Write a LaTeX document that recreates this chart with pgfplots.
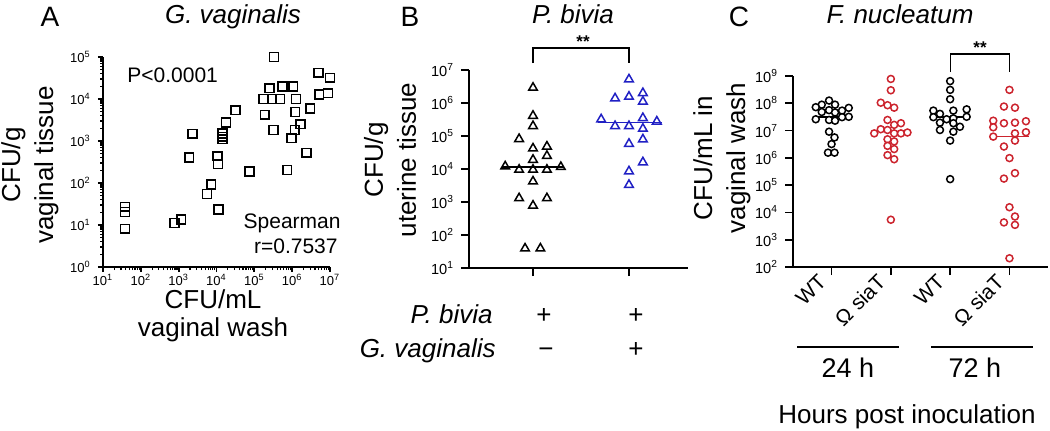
\documentclass[border=0pt]{standalone}
\usepackage{fontspec}
\setmainfont{Liberation Sans}
\usepackage{pgfplots}
\pgfplotsset{compat=1.18}
\definecolor{fnred}{RGB}{204,36,46}
\definecolor{pbblue}{RGB}{32,32,196}
\newcommand{\tp}[1]{10\textsuperscript{#1}}
\begin{document}
\begin{tikzpicture}
\path[use as bounding box] (0,0) rectangle (525pt,215pt);
\pgfplotsset{
  panel/.style={
    scale only axis, anchor=south west,
    axis lines=left, axis line style={-, line width=1pt, black},
    tick align=outside,
    major tick style={line width=0.9pt, black},
    clip=false,
  }
}
% ---------------- Panel A ----------------
\begin{axis}[panel, at={(51.5pt,81.5pt)}, width=113.5pt, height=105pt,
  xmode=log, ymode=log, xmin=10, xmax=1e7, ymin=1, ymax=1e5,
  xtick={1e1,1e2,1e3,1e4,1e5,1e6,1e7},
  xticklabels={\tp{1},\tp{2},\tp{3},\tp{4},\tp{5},\tp{6},\tp{7}},
  ytick={1,1e1,1e2,1e3,1e4,1e5},
  yticklabels={\tp{0},\tp{1},\tp{2},\tp{3},\tp{4},\tp{5}},
  minor xtick={20,30,40,50,60,70,80,90,200,300,400,500,600,700,800,900,2000,3000,4000,5000,6000,7000,8000,9000,2e4,3e4,4e4,5e4,6e4,7e4,8e4,9e4,2e5,3e5,4e5,5e5,6e5,7e5,8e5,9e5,2e6,3e6,4e6,5e6,6e6,7e6,8e6,9e6},
  minor ytick={2,3,4,5,6,7,8,9,20,30,40,50,60,70,80,90,200,300,400,500,600,700,800,900,2000,3000,4000,5000,6000,7000,8000,9000,2e4,3e4,4e4,5e4,6e4,7e4,8e4,9e4},
  major tick length=2.6pt, minor tick length=1.5pt,
  minor tick style={line width=0.6pt, black},
  tick label style={font=\fontsize{6.5}{7.5}\selectfont},
  xticklabel style={yshift=2.5pt},
]
\addplot[only marks, mark=square, mark size=2.2pt, mark options={line width=0.8pt, black, fill=white}] table {
x y
3.3e5 1.0e5
5.0e6 4.2e4
1.0e7 3.2e4
2.5e5 1.8e4
5.6e5 2.0e4
1.07e6 2.0e4
1.74e5 1.0e4
2.9e5 1.0e4
4.8e5 1.0e4
1.26e6 1.0e4
5.2e6 1.29e4
8.9e6 1.38e4
3.0e6 5.9e3
1.2e6 4.9e3
1.9e5 4.2e3
1.78e4 2.75e3
3.2e4 5.4e3
2.3e3 1.48e3
1.45e4 1.51e3
1.45e4 1.26e3
1.45e4 1.1e3
3.2e5 1.82e3
1.66e6 2.5e3
1.17e6 1.82e3
9.5e5 1.17e3
2.4e6 525
1.9e3 407
1.05e4 437
1.1e4 282
7.4e4 186
7.4e5 204
7.2e3 93
5.6e3 55
1.12e4 23.4
776 11.2
1.17e3 13.5
38 27
38 20.4
38 8.1
};
\end{axis}
% ---------------- Panel B ----------------
\begin{axis}[panel, at={(234.5pt,81pt)}, width=109.5pt, height=99pt,
  ymode=log, xmin=0.333, xmax=2.615, ymin=10, ymax=1e7,
  xtick={1,2}, xticklabels={},
  ytick={1e1,1e2,1e3,1e4,1e5,1e6,1e7},
  yticklabels={\tp{1},\tp{2},\tp{3},\tp{4},\tp{5},\tp{6},\tp{7}},
  major tick length=4pt, minor tick length=0pt,
  tick label style={font=\fontsize{7.3}{8.5}\selectfont},
]
\addplot[black, line width=0.8pt] coordinates {(0.68,1.17e4) (1.32,1.17e4)};
\addplot[pbblue, line width=0.8pt] coordinates {(1.68,2.57e5) (2.34,2.57e5)};
\addplot[only marks, mark=triangle, mark size=2.5pt, mark options={line width=0.75pt, black, fill=white}] table {
x y
1.0 2.9e6
1.0 4.1e5
1.0 2.0e5
0.855 8.1e4
1.0 4.2e4
1.145 4.8e4
1.0 1.9e4
1.145 2.5e4
0.71 1.2e4
0.855 9.5e3
1.0 9.5e3
1.145 9.5e3
1.29 1.15e4
1.0 4.2e3
0.855 1.3e3
1.145 1.3e3
1.0 776
0.917 39
1.077 39
};
\addplot[only marks, mark=triangle, mark size=2.5pt, mark options={line width=0.75pt, pbblue, fill=white}] table {
x y
2.0 5.2e6
1.855 1.38e6
2.0 1.55e6
2.145 2.0e6
2.145 1.1e6
1.71 3.2e5
1.855 2.0e5
2.0 2.0e5
2.145 3.5e5
2.29 2.75e5
2.145 1.66e5
2.0 5.8e4
2.145 7.9e4
2.145 1.6e4
2.0 8.5e3
2.0 3.3e3
};
\end{axis}
% ---------------- Panel C ----------------
\begin{axis}[panel, at={(396.5pt,81.5pt)}, width=127.5pt, height=95.5pt,
  ymode=log, xmin=0.35, xmax=4.65, ymin=100, ymax=1e9,
  xtick={1,2,3,4}, xticklabels={WT,Ω siaT,WT,Ω siaT},
  ytick={1e2,1e3,1e4,1e5,1e6,1e7,1e8,1e9},
  yticklabels={\tp{2},\tp{3},\tp{4},\tp{5},\tp{6},\tp{7},\tp{8},\tp{9}},
  major tick length=4pt, minor tick length=0pt,
  tick label style={font=\fontsize{7.3}{8.5}\selectfont},
  xticklabel style={rotate=45, anchor=east, font=\fontsize{10.5}{12}\selectfont, xshift=-1pt, yshift=2pt},
]
\addplot[black, line width=0.8pt] coordinates {(0.69,3.2e7) (1.345,3.2e7)};
\addplot[fnred, line width=0.8pt] coordinates {(1.67,9.1e6) (2.32,9.1e6)};
\addplot[black, line width=0.8pt] coordinates {(2.68,3.1e7) (3.33,3.1e7)};
\addplot[fnred, line width=0.8pt] coordinates {(3.68,6.0e6) (4.33,6.0e6)};
\addplot[only marks, mark=*, mark size=1.75pt, mark options={line width=0.75pt, draw=black, fill=white}] table {
x y
0.958 1.26e8
0.835 8.9e7
1.059 8.9e7
0.734 7.2e7
0.958 5.6e7
0.835 4.8e7
1.059 4.6e7
1.177 5.4e7
1.29 6.8e7
1.29 3.2e7
1.177 3.1e7
0.734 2.6e7
0.958 2.45e7
1.059 2.3e7
0.958 9.1e6
1.05 5.6e6
1.0 3.2e6
0.94 1.55e6
1.05 1.55e6
};
\addplot[only marks, mark=*, mark size=1.75pt, mark options={line width=0.75pt, draw=fnred, fill=white}] table {
x y
2.0 7.8e8
2.0 3.0e8
1.83 1.05e8
1.944 8.5e7
2.056 6.9e7
1.944 2.45e7
2.056 1.62e7
2.17 1.86e7
1.83 1.12e7
1.944 1.05e7
1.72 7.9e6
2.056 7.9e6
2.17 7.9e6
2.28 8.5e6
1.944 4.8e6
2.056 4.0e6
1.944 2.75e6
2.056 2.1e6
1.944 1.26e6
2.056 8.9e5
2.0 5.4e3
};
\addplot[only marks, mark=*, mark size=1.75pt, mark options={line width=0.75pt, draw=black, fill=white}] table {
x y
3.0 6.5e8
3.0 3.1e8
3.0 1.41e8
2.717 5.4e7
2.828 4.1e7
3.054 5.4e7
3.278 6.0e7
2.717 3.1e7
2.94 2.6e7
3.054 2.8e7
3.278 3.2e7
2.828 1.95e7
3.054 1.86e7
3.165 1.38e7
2.828 1.05e7
3.054 9.1e6
3.0 4.3e6
3.0 1.66e5
};
\addplot[only marks, mark=*, mark size=1.75pt, mark options={line width=0.75pt, draw=fnred, fill=white}] table {
x y
4.0 3.1e8
3.907 7.6e7
4.093 6.9e7
3.727 2.3e7
3.727 1.32e7
3.907 1.86e7
4.093 1.95e7
4.278 2.2e7
3.727 6.0e6
4.093 7.9e6
4.278 8.7e6
4.093 4.3e6
3.907 2.6e6
4.0 9.8e5
3.907 1.74e5
4.093 2.75e5
4.0 1.55e4
4.093 7.1e3
3.907 4.3e3
4.093 3.5e3
4.0 209
};
\end{axis}
% ---------------- Annotations (pixel coordinates) ----------------
\begin{scope}[shift={(0pt,215pt)}, x=0.5pt, y=-0.5pt, every node/.append style={inner sep=0pt}]
\tikzset{big/.style={font=\fontsize{13}{16.5}\selectfont}}
% panel letters and titles
\node[anchor=base, font=\fontsize{14}{16}\selectfont] at (50,26) {A};
\node[anchor=base, font=\fontsize{14}{16}\selectfont] at (410,26) {B};
\node[anchor=base, font=\fontsize{14}{16}\selectfont] at (739,26) {C};
\node[anchor=base, font=\fontsize{13}{16.5}\selectfont\itshape] at (233,23) {G. vaginalis};
\node[anchor=base, font=\fontsize{13}{16.5}\selectfont\itshape] at (573,23) {P. bivia};
\node[anchor=base, font=\fontsize{13}{16.5}\selectfont\itshape] at (900,23) {F. nucleatum};
% y labels
\node[rotate=90, align=center, big] at (30,165) {CFU/g\\vaginal tissue};
\node[rotate=90, align=center, big] at (390,160) {CFU/g\\uterine tissue};
\node[rotate=90, align=center, big] at (722,158) {CFU/mL in\\vaginal wash};
% panel A text
\node[anchor=base, big] at (213,308) {CFU/mL};
\node[anchor=base, big] at (213,336) {vaginal wash};
\node[anchor=base west, font=\fontsize{10.5}{12}\selectfont] at (127,82) {P<0.0001};
\node[anchor=base east, font=\fontsize{10.5}{12}\selectfont] at (341,228) {Spearman};
\node[anchor=base east, font=\fontsize{10.5}{12}\selectfont] at (338,253) {r=0.7537};
% panel B text
\draw[line width=0.7pt] (533,63) -- (533,48) -- (629,48) -- (629,63);
\node[font=\fontsize{8.5}{10}\selectfont\bfseries] at (583,42) {**};
\node[anchor=base east, font=\fontsize{13}{16.5}\selectfont\itshape] at (493,323) {P. bivia};
\node[anchor=base east, font=\fontsize{13}{16.5}\selectfont\itshape] at (496,357) {G. vaginalis};
\node[anchor=base, big] at (544,323) {+};
\node[anchor=base, big] at (636,323) {+};
\node[anchor=base, big] at (546,357) {−};
\node[anchor=base, big] at (636,357) {+};
% panel C text
\draw[line width=0.7pt] (950.7,72) -- (950.7,54) -- (1009.3,54) -- (1009.3,72);
\node[font=\fontsize{8.5}{10}\selectfont\bfseries] at (980,48) {**};
\draw[line width=0.6pt] (797,347) -- (899,347);
\draw[line width=0.6pt] (931,347) -- (1033,347);
\node[anchor=base, font=\fontsize{13.5}{16}\selectfont] at (848,377) {24 h};
\node[anchor=base, font=\fontsize{13.5}{16}\selectfont] at (975,377) {72 h};
\node[anchor=base, big] at (907,423) {Hours post inoculation};
\end{scope}
\end{tikzpicture}
\end{document}
